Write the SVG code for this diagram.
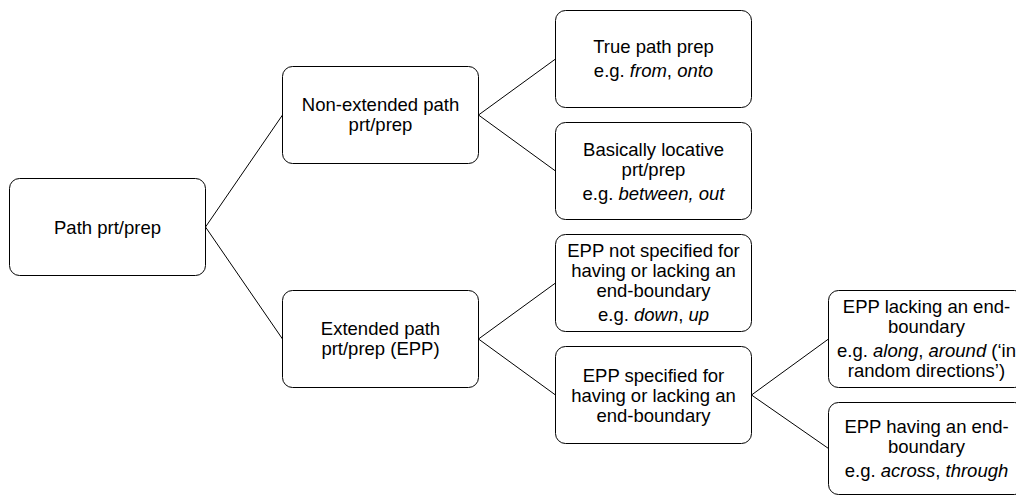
<svg xmlns="http://www.w3.org/2000/svg" width="1016" height="497" viewBox="0 0 1016 497">
<style>
.box{fill:#fff;stroke:#000;stroke-width:1}
.lbl{font-family:"Liberation Sans",Arial,sans-serif;font-size:18.5px;fill:#000;text-anchor:middle}
.i{font-style:italic}
.conn line{stroke:#000;stroke-width:1}
</style>
<rect width="1016" height="497" fill="#fff"/>
<g class="conn" id="connectors">
<line x1="205.5" y1="227" x2="282.5" y2="115"/>
<line x1="205.5" y1="227" x2="282.5" y2="339"/>
<line x1="478.5" y1="115" x2="555.5" y2="59"/>
<line x1="478.5" y1="115" x2="555.5" y2="171"/>
<line x1="478.5" y1="339" x2="555.5" y2="283"/>
<line x1="478.5" y1="339" x2="555.5" y2="395"/>
<line x1="751.5" y1="395" x2="828.5" y2="339"/>
<line x1="751.5" y1="395" x2="828.5" y2="448.5"/>
</g>
<g id="n1">
<rect class="box" x="9.5" y="178.5" width="196" height="97" rx="10"/>
<text class="lbl" x="107.5" y="234">Path prt/prep</text>
</g>
<g id="n2">
<rect class="box" x="282.5" y="66.5" width="196" height="97" rx="10"/>
<text class="lbl" x="380.5" y="111">Non-extended path</text>
<text class="lbl" x="380.5" y="131">prt/prep</text>
</g>
<g id="n3">
<rect class="box" x="555.5" y="10.5" width="196" height="97" rx="10"/>
<text class="lbl" x="653.5" y="53">True path prep</text>
<text class="lbl" x="653.5" y="77">e.g. <tspan class="i">from</tspan>, <tspan class="i">onto</tspan></text>
</g>
<g id="n4">
<rect class="box" x="555.5" y="122.5" width="196" height="97" rx="10"/>
<text class="lbl" x="653.5" y="155.5">Basically locative</text>
<text class="lbl" x="653.5" y="175.5">prt/prep</text>
<text class="lbl" x="653.5" y="199.5">e.g. <tspan class="i">between, out</tspan></text>
</g>
<g id="n5">
<rect class="box" x="282.5" y="290.5" width="196" height="97" rx="10"/>
<text class="lbl" x="380.5" y="335">Extended path</text>
<text class="lbl" x="380.5" y="355">prt/prep (EPP)</text>
</g>
<g id="n6">
<rect class="box" x="555.5" y="234.5" width="196" height="97" rx="10"/>
<text class="lbl" x="653.5" y="257">EPP not specified for</text>
<text class="lbl" x="653.5" y="277">having or lacking an</text>
<text class="lbl" x="653.5" y="297">end-boundary</text>
<text class="lbl" x="653.5" y="321">e.g. <tspan class="i">down</tspan>, <tspan class="i">up</tspan></text>
</g>
<g id="n7">
<rect class="box" x="555.5" y="346.5" width="196" height="97" rx="10"/>
<text class="lbl" x="653.5" y="381.5">EPP specified for</text>
<text class="lbl" x="653.5" y="401.5">having or lacking an</text>
<text class="lbl" x="653.5" y="421.5">end-boundary</text>
</g>
<g id="n8">
<rect class="box" x="828.5" y="290.5" width="196" height="97" rx="10"/>
<text class="lbl" x="926.5" y="312.5">EPP lacking an end-</text>
<text class="lbl" x="926.5" y="332.5">boundary</text>
<text class="lbl" x="926.5" y="356.5">e.g. <tspan class="i">along</tspan>, <tspan class="i">around</tspan> (‘in</text>
<text class="lbl" x="926.5" y="376.5">random directions’)</text>
</g>
<g id="n9">
<rect class="box" x="828.5" y="402.5" width="196" height="92" rx="10"/>
<text class="lbl" x="926.5" y="433">EPP having an end-</text>
<text class="lbl" x="926.5" y="453">boundary</text>
<text class="lbl" x="926.5" y="477">e.g. <tspan class="i">across</tspan>, <tspan class="i">through</tspan></text>
</g>
</svg>
